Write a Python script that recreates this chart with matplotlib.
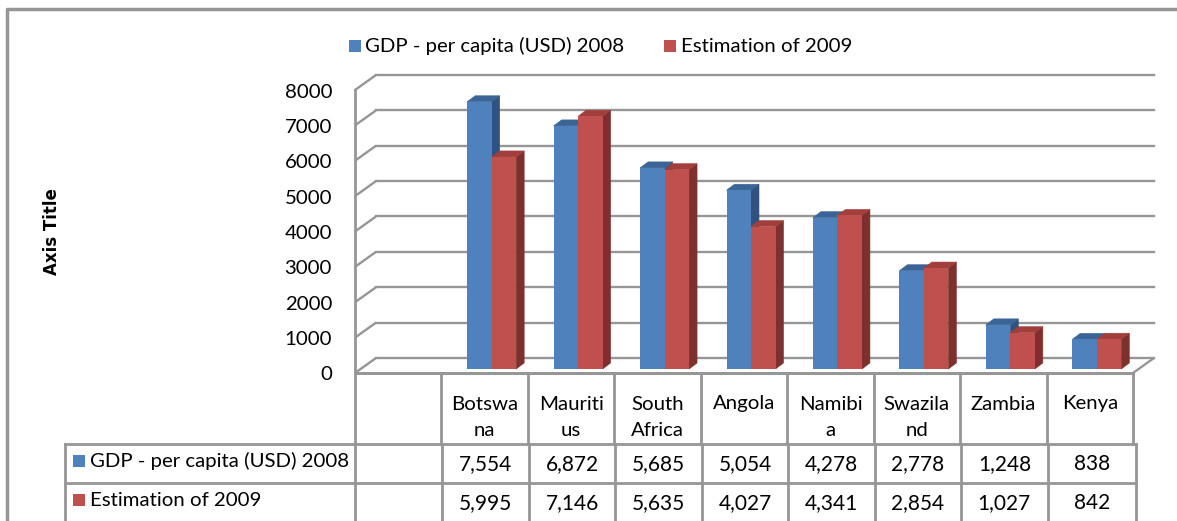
import matplotlib
matplotlib.use('Agg')
import numpy as np
import matplotlib.pyplot as plt
from matplotlib.patches import Polygon, Rectangle
from matplotlib.transforms import Affine2D

plt.rcParams['font.family'] = ['Lato', 'DejaVu Sans']

countries = ['Botswana', 'Mauritius', 'South Africa', 'Angola', 'Namibia', 'Swaziland', 'Zambia', 'Kenya']
header_labels = ['Botswa\nna', 'Mauriti\nus', 'South\nAfrica', 'Angola', 'Namibi\na', 'Swazila\nnd', 'Zambia', 'Kenya']
gdp_2008 = [7554, 6872, 5685, 5054, 4278, 2778, 1248, 838]
est_2009 = [5995, 7146, 5635, 4027, 4341, 2854, 1027, 842]
series_names = ['GDP - per capita (USD) 2008', 'Estimation of 2009']
y_ticks = [0, 1000, 2000, 3000, 4000, 5000, 6000, 7000, 8000]

W, H = 1177, 521
BLUE, BLUE_TOP, BLUE_SIDE = '#4f81bd', '#3a6596', '#2f5280'
RED, RED_TOP, RED_SIDE = '#c0504d', '#a23f3c', '#7d302e'
GRID = '#969696'

fig = plt.figure(figsize=(W / 100, H / 100), dpi=100, facecolor='white')

# overlay in pixel coordinates for the frame, table and legend
ov = fig.add_axes([0, 0, 1, 1], zorder=1)
ov.set_xlim(0, W)
ov.set_ylim(H, 0)
ov.axis('off')

# plot axes: front plane, blank first column then the eight countries
left, right, top, bottom = 355, 1133, 90, 373
ax = fig.add_axes([left / W, 1 - bottom / H, (right - left) / W, (bottom - top) / H], zorder=2)
ax.patch.set_alpha(0)
ax.set_xlim(0, 9)
ax.set_ylim(0, 8000)
ax.axis('off')

# fake 3D offsets, in pixels
back = ax.transData + Affine2D().translate(21, 15)
floor = ax.transData + Affine2D().translate(7, 4)
dx = 8 / (right - left) * 9
dy = 6 / (bottom - top) * 8000

# walls
for v in y_ticks:
    ax.plot([0, 9], [v, v], color=GRID, lw=1.7, transform=back, clip_on=False, zorder=1)
    ax.add_patch(Polygon([[0, v], [21 / (right - left) * 9, v + 15 / (bottom - top) * 8000]],
                         closed=False, fill=False, ec=GRID, lw=1.7, clip_on=False, zorder=1))
ax.plot([0, 0], [0, 8000], color=GRID, lw=2, clip_on=False, zorder=1)
ax.plot([0, 9], [0, 0], color=GRID, lw=2, clip_on=False, zorder=1)
ax.add_patch(Polygon([[9, 0], [9 + 21 / (right - left) * 9, 15 / (bottom - top) * 8000]],
                     closed=False, fill=False, ec=GRID, lw=1.7, clip_on=False, zorder=1))

# bars with side and top faces
width = 24.5 / (right - left) * 9
xs = np.arange(len(countries)) + 1.5
for vals, off, face, tp, side in [(gdp_2008, -width / 2, BLUE, BLUE_TOP, BLUE_SIDE),
                                  (est_2009, width / 2, RED, RED_TOP, RED_SIDE)]:
    z = 3 if face == RED else 2
    for x, v in zip(xs, vals):
        x0, x1 = x + off - width / 2, x + off + width / 2
        ax.add_patch(Polygon([[x1, 0], [x1 + dx, dy], [x1 + dx, v + dy], [x1, v]], fc=side, ec=side, lw=0.4,
                             transform=floor, clip_on=False, zorder=z))
        ax.add_patch(Polygon([[x0, v], [x0 + dx, v + dy], [x1 + dx, v + dy], [x1, v]], fc=tp, ec=tp, lw=0.4,
                             transform=floor, clip_on=False, zorder=z))
    ax.bar(xs + off, vals, width, color=face, transform=floor, clip_on=False, zorder=z)
ax.set_xlim(0, 9)
ax.set_ylim(0, 8000)

# y tick labels
for v in y_ticks:
    y = bottom - v / 8000 * (bottom - top)
    ov.text(332, y + 2, str(v), ha='right', va='center', fontsize=14.7, color='black')

ov.text(52, 232, 'Axis Title', rotation=90, ha='center', va='center', fontsize=12, fontweight='bold',
        family=['DejaVu Sans'])

# legend at the top
for lx, tx, name, c in [(349, 365, series_names[0], BLUE), (664, 681, series_names[1], RED)]:
    ov.add_patch(Rectangle((lx, 40), 12, 12, fc=c, ec='none'))
    ov.text(tx, 46, name, ha='left', va='center', fontsize=14.7, color='black')

# outer frame, open on the right
ov.plot([7, 7, W], [H, 9, 9], color=GRID, lw=2.5)

# data table, the value rows sit a touch to the right of the header
col_x = np.linspace(left, right, 10)
row_x = col_x + 1
row_x[0] = col_x[0]
row_x[-1] = col_x[-1] + 3
for cx, rx in zip(col_x, row_x):
    ov.plot([cx, cx], [373, 444], color=GRID, lw=2)
    ov.plot([rx, rx], [444, H], color=GRID, lw=2)
ov.plot([65, 65], [444, H], color=GRID, lw=2)
ov.plot([355, right], [373, 373], color=GRID, lw=2)
ov.plot([65, right + 3], [444, 444], color=GRID, lw=2)
ov.plot([65, right + 3], [483, 483], color=GRID, lw=2)

for i, lab in enumerate(header_labels):
    lines = lab.split('\n')
    cx = (col_x[i + 1] + col_x[i + 2]) / 2
    for j, line in enumerate(lines):
        ov.text(cx, 404 + j * 27, line, ha='center', va='center', fontsize=14.7, color='black')

for row, (name, vals, c) in enumerate(zip(series_names, [gdp_2008, est_2009], [BLUE, RED])):
    yc = [462, 501][row]
    ov.add_patch(Rectangle((73, yc - 7), 12, 12, fc=c, ec='none'))
    ov.text(90, yc - 1, name, ha='left', va='center', fontsize=14.7, color='black')
    for i, v in enumerate(vals):
        cx = (row_x[i + 1] + row_x[i + 2]) / 2
        ov.text(cx, yc + 2, f'{v:,}', ha='center', va='center', fontsize=15, color='black')

fig.savefig('out.png', dpi=100)
